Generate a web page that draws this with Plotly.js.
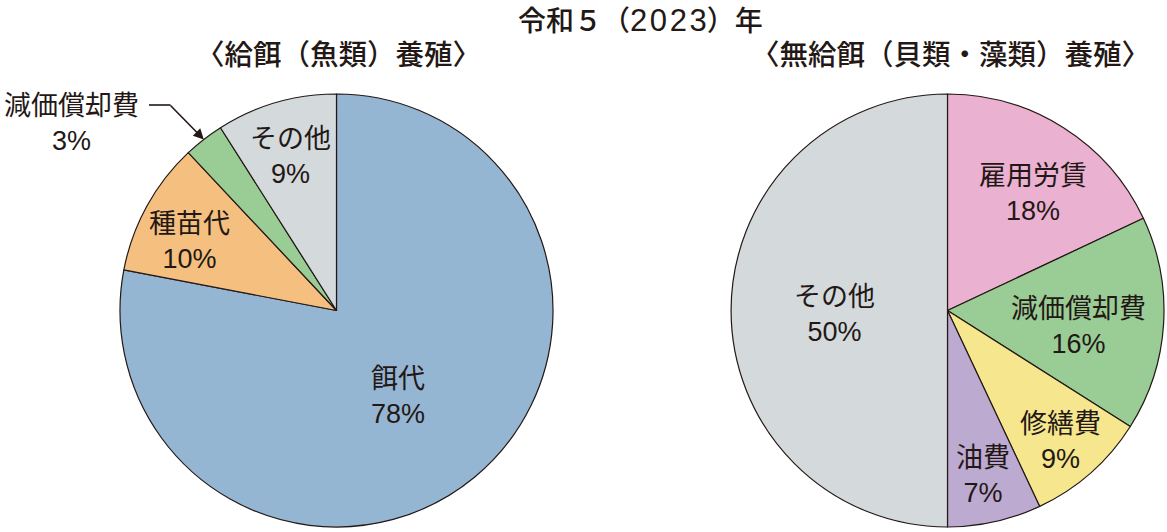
<!DOCTYPE html>
<html><head><meta charset="utf-8">
<script src="https://cdn.plot.ly/plotly-3.0.1.min.js"></script>
<style>html,body{margin:0;padding:0;background:#fff}</style>
</head><body><div id="chart" style="width:1167px;height:532px"></div>
<script>
// ---- data ----
const titleEra = '令和５';
const titleYear = '2023';
const titleSuffix = '年';
const leftTitle = '〈給餌（魚類）養殖〉';
const leftLabels = ['餌代', '種苗代', '減価償却費', 'その他'];
const leftValues = [78, 10, 3, 9];
const rightTitle = '〈無給餌（貝類・藻類）養殖〉';
const rightLabels = ['雇用労賃', '減価償却費', '修繕費', '油費', 'その他'];
const rightValues = [18, 16, 9, 7, 50];

// ---- styles ----
const leftColors = ['#95b6d3', '#f5c07f', '#9acc95', '#d4d9dc'];
const rightColors = ['#ebb1d1', '#9acc95', '#f6e68e', '#bcaad0', '#d4d9dc'];
const leftLabelR = [0.49, 0.75, null, 0.745];
const leftLabelDA = [4, -3.5, 0, -0.5];
const leftOutside = [false, false, true, false];
const rightLabelR = [0.67, 0.61, 0.80, 0.78, 0.52];
const rightLabelDA = [3.6, 3.2, 0.6, 0.5, -1.8];
const ink = '#231815';
const FONT = '"Liberation Sans", "Noto Sans CJK JP", sans-serif';

const W = 1167, H = 532;
const leftDom = {x: [120 / W, 553 / W], y: [5 / H, 438 / H]};
const rightDom = {x: [731 / W, 1164 / W], y: [5 / H, 438 / H]};

function pieGeom(dom) {
  const x0 = dom.x[0] * W, x1 = dom.x[1] * W;
  const y0 = (1 - dom.y[1]) * H, y1 = (1 - dom.y[0]) * H;
  return {cx: (x0 + x1) / 2, cy: (y0 + y1) / 2, R: Math.min(x1 - x0, y1 - y0) / 2};
}

function pieTrace(labels, values, colors, dom) {
  return {
    type: 'pie', labels: labels, values: values, sort: false, direction: 'clockwise',
    rotation: 0, domain: dom, textinfo: 'none', hoverinfo: 'label+percent',
    marker: {colors: colors, line: {color: ink, width: 1.2}}
  };
}

const annotations = [];
function addLabels(labels, values, dom, rf, da, outside) {
  const g = pieGeom(dom);
  const total = values.reduce((a, b) => a + b, 0);
  let cum = 0;
  values.forEach((v, i) => {
    const mid = (cum + v / 2) / total * 360;
    cum += v;
    const pct = Math.round(v / total * 100) + '%';
    const text = labels[i] + '<br>' + pct;
    if (outside && outside[i]) {
      const a = mid * Math.PI / 180;
      const hx = g.cx + g.R * Math.sin(a), hy = g.cy - g.R * Math.cos(a);
      const tailX = 170, tailY = 105;
      annotations.push({
        xref: 'paper', yref: 'paper', x: hx / W, y: 1 - hy / H,
        ax: tailX - hx, ay: tailY - hy, axref: 'pixel', ayref: 'pixel',
        text: ' ', font: {size: 1}, showarrow: true, arrowhead: 2, arrowsize: 1.3,
        arrowwidth: 1.6, arrowcolor: ink, standoff: 0, borderpad: 0
      });
      annotations.push({
        xref: 'paper', yref: 'paper', x: 71 / W, y: 1 - 124 / H,
        xanchor: 'center', yanchor: 'middle', showarrow: false, text: text,
        font: {family: FONT, size: 27, color: ink}
      });
    } else {
      const a = (mid + da[i]) * Math.PI / 180;
      const px = g.cx + rf[i] * g.R * Math.sin(a), py = g.cy - rf[i] * g.R * Math.cos(a);
      annotations.push({
        xref: 'paper', yref: 'paper', x: px / W, y: 1 - py / H,
        xanchor: 'center', yanchor: 'middle', showarrow: false, text: text,
        font: {family: FONT, size: 27, color: ink}
      });
    }
  });
}
addLabels(leftLabels, leftValues, leftDom, leftLabelR, leftLabelDA, leftOutside);
addLabels(rightLabels, rightValues, rightDom, rightLabelR, rightLabelDA, null);

const gl = pieGeom(leftDom), gr = pieGeom(rightDom);
const chartTitle = titleEra + '（<span style="font-size:31px">' +
  titleYear.split('').join('\u200a') + '</span>）' + titleSuffix;
annotations.push({xref: 'paper', yref: 'paper', x: 641 / W, y: 1 - 20 / H,
  xanchor: 'center', yanchor: 'middle', showarrow: false, text: chartTitle,
  font: {family: FONT, size: 28, color: ink, weight: 500}});
annotations.push({xref: 'paper', yref: 'paper', x: (gl.cx + 2) / W, y: 1 - 55 / H,
  xanchor: 'center', yanchor: 'middle', showarrow: false, text: leftTitle,
  font: {family: FONT, size: 28.5, color: ink, weight: 500}});
annotations.push({xref: 'paper', yref: 'paper', x: (gr.cx + 3) / W, y: 1 - 55 / H,
  xanchor: 'center', yanchor: 'middle', showarrow: false, text: rightTitle,
  font: {family: FONT, size: 28.5, color: ink, weight: 500}});

const layout = {
  width: W, height: H, margin: {l: 0, r: 0, t: 0, b: 0},
  paper_bgcolor: '#fff', showlegend: false,
  annotations: annotations,
  shapes: [{type: 'line', xref: 'paper', yref: 'paper', x0: 149 / W, x1: 170.5 / W,
    y0: 1 - 105 / H, y1: 1 - 105 / H, line: {color: ink, width: 1.6}}]
};

Plotly.newPlot('chart', [
  pieTrace(leftLabels, leftValues, leftColors, leftDom),
  pieTrace(rightLabels, rightValues, rightColors, rightDom)
], layout, {displayModeBar: false, staticPlot: true});
</script></body></html>
